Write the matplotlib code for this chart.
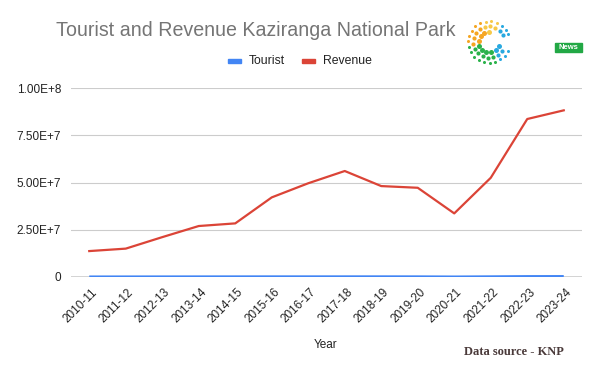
import numpy as np
import matplotlib
matplotlib.use("Agg")
import matplotlib.pyplot as plt
import matplotlib.transforms as mtransforms
from matplotlib.patches import Rectangle

years = ["2010-11", "2011-12", "2012-13", "2013-14", "2014-15", "2015-16", "2016-17",
         "2017-18", "2018-19", "2019-20", "2020-21", "2021-22", "2022-23", "2023-24"]
tourist = [105000, 122000, 135000, 150000, 160000, 173000, 172000,
           177000, 180000, 165000, 90000, 185000, 300000, 326000]
revenue = [13.6e6, 14.9e6, 21.0e6, 26.9e6, 28.3e6, 42.1e6, 49.6e6,
           56.1e6, 48.1e6, 47.2e6, 33.6e6, 52.5e6, 83.7e6, 88.3e6]
yticks = [0, 2.5e7, 5.0e7, 7.5e7, 1.0e8]
ytick_labels = ["0", "2.50E+7", "5.00E+7", "7.50E+7", "1.00E+8"]

plt.rcParams['font.family'] = ['Liberation Sans', 'DejaVu Sans']

fig = plt.figure(figsize=(6.0, 3.71), dpi=100)
ax = fig.add_axes([71 / 600, 1 - 276.7 / 371, (582 - 71) / 600, (276.7 - 88.3) / 371])

x = np.arange(len(years))
ax.plot(x, tourist, color="#4285F4", lw=1.5, zorder=4, solid_capstyle='butt')
ax.plot(x, revenue, color="#DB4437", lw=1.6, zorder=4)

ax.set_xlim(-0.5, len(years) - 0.5)
ax.set_ylim(0, 1.0e8)
ax.set_yticks(yticks)
ax.set_yticklabels(ytick_labels)
ax.grid(axis='y', color="#cccccc", lw=0.8)
ax.axhline(0, color="#333333", lw=1.0, zorder=3)
for s in ax.spines.values():
    s.set_visible(False)
ax.tick_params(axis='both', length=0, labelsize=8.5, colors="#222222")
ax.tick_params(axis='y', pad=7)

ax.set_xticks(x)
offset = mtransforms.ScaledTranslation(6 / 100, -9 / 100, fig.dpi_scale_trans)
ax.set_xticklabels(years, rotation=45, ha='right', va='center', rotation_mode='anchor')
for lbl in ax.get_xticklabels():
    lbl.set_transform(lbl.get_transform() + offset)
    lbl.set_fontsize(8.5)

fig.text(326 / 600, 1 - 345 / 371, "Year", ha='center', va='center', fontsize=8.5, color="#222222")

# Title
fig.text(56 / 600, 1 - 31 / 371, "Tourist and Revenue Kaziranga National Park",
         ha='left', va='center', fontsize=14.1, color="#757575")

# Legend
fig.add_artist(Rectangle((228 / 600, 1 - 62.5 / 371), 13 / 600, 3.5 / 371,
                         transform=fig.transFigure, color="#4285F4"))
fig.text(249 / 600, 1 - 61 / 371, "Tourist", ha='left', va='center', fontsize=8.8, color="#222222")
fig.add_artist(Rectangle((302 / 600, 1 - 62.5 / 371), 13 / 600, 3.5 / 371,
                         transform=fig.transFigure, color="#DB4437"))
fig.text(323 / 600, 1 - 61 / 371, "Revenue", ha='left', va='center', fontsize=8.8, color="#222222")

# Data source
fig.text(514 / 600, 1 - 352 / 371, "Data source - KNP", ha='center', va='center',
         fontsize=9, fontweight='bold', family=['Liberation Serif', 'DejaVu Serif'],
         color="#4a3a3a")

# Logo (decorative)
lax = fig.add_axes([465 / 600, 1 - 66 / 371, 48 / 600, 48 / 371])
lax.set_xlim(-1.1, 1.1)
lax.set_ylim(-1.1, 1.1)
lax.set_aspect('equal')
lax.axis('off')
for r, size in [(0.95, 2.2), (0.72, 3.0), (0.48, 3.6)]:
    n = int(20 * r) + 4
    ang = np.linspace(0, 2 * np.pi, n, endpoint=False) + 0.1
    for a in ang:
        deg = np.degrees(a) % 360
        if 345 <= deg or deg < 15:
            continue
        if 60 <= deg < 190:
            c = "#f5a623" if deg > 110 else "#f7c948"
        elif 190 <= deg < 290:
            c = "#2ab24a"
        else:
            c = "#29a9e0"
        if r < 0.5 and 20 <= deg < 80:
            continue
        lax.plot(r * np.cos(a), r * np.sin(a), 'o', ms=size, color=c, mec='none')

fig.add_artist(Rectangle((555 / 600, 1 - 52 / 371), 27 / 600, 9 / 371,
                         transform=fig.transFigure, color="#22a845"))
fig.text(568.5 / 600, 1 - 47.5 / 371, "News", ha='center', va='center', fontsize=5.5,
         color="white", fontweight='bold')

fig.savefig("out.png", dpi=100, facecolor="white")
